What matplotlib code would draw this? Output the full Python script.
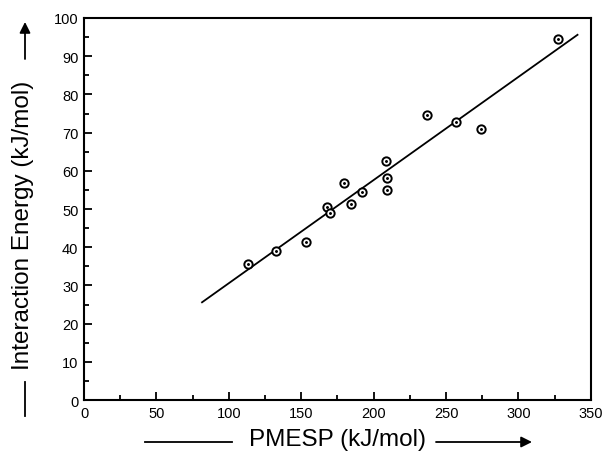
import matplotlib
matplotlib.use("Agg")
import matplotlib.pyplot as plt
from matplotlib.ticker import MultipleLocator

# values
pmesp = [113.3, 132.9, 153.6, 167.6, 170.2, 179.4, 184.2, 191.8,
         208.8, 209.5, 209.1, 236.9, 257.2, 274.2, 327.0]
energy = [35.5, 39.1, 41.3, 50.6, 48.9, 56.8, 51.2, 54.5,
          62.5, 58.1, 55.1, 74.5, 72.9, 70.9, 94.5]

# regression line as drawn (end points)
fit_x = [81.5, 340.8]
fit_y = [25.6, 95.6]

plt.rcParams['font.family'] = ['Liberation Sans', 'DejaVu Sans']

fig = plt.figure(figsize=(6.11, 4.60), dpi=100)
ax = fig.add_axes([0.1375, 0.128, 0.8295, 0.8307])

ax.plot(fit_x, fit_y, color='black', lw=1.3, zorder=2)
ax.plot(pmesp, energy, 'o', ms=6, mfc='white', mec='black', mew=1.4, zorder=3)
ax.plot(pmesp, energy, '.', ms=2.2, color='black', zorder=4)

ax.set_xlim(0, 350)
ax.set_ylim(0, 100)
ax.xaxis.set_major_locator(MultipleLocator(50))
ax.xaxis.set_minor_locator(MultipleLocator(25))
ax.yaxis.set_major_locator(MultipleLocator(10))
ax.yaxis.set_minor_locator(MultipleLocator(5))
ax.tick_params(which='both', direction='in', top=False, right=False,
               labelsize=10.5, width=1.3)
ax.tick_params(which='major', length=6)
ax.tick_params(which='minor', length=3.3)
ax.tick_params(axis='x', pad=4)
ax.tick_params(axis='y', pad=4)
for s in ax.spines.values():
    s.set_linewidth(1.5)

# axis titles with the arrows on both sides
fig.text(337 / 611, 1 - 440 / 460, 'PMESP (kJ/mol)', fontsize=17.5,
         ha='center', va='center')
fig.add_artist(plt.Line2D([145 / 611, 232 / 611], [1 - 443 / 460] * 2,
                          color='black', lw=1.3, transform=fig.transFigure))
ax.annotate('', xy=(532 / 611, 1 - 443 / 460), xytext=(436 / 611, 1 - 443 / 460),
            xycoords='figure fraction', textcoords='figure fraction',
            arrowprops=dict(arrowstyle='-|>', color='black', lw=1.3,
                            mutation_scale=16, shrinkA=0, shrinkB=0))

fig.text(23 / 611, 1 - 225 / 460, 'Interaction Energy (kJ/mol)', fontsize=17.5,
         rotation=90, ha='center', va='center')
fig.add_artist(plt.Line2D([25 / 611] * 2, [1 - 383 / 460, 1 - 417 / 460],
                          color='black', lw=1.3, transform=fig.transFigure))
ax.annotate('', xy=(25 / 611, 1 - 23 / 460), xytext=(25 / 611, 1 - 60 / 460),
            xycoords='figure fraction', textcoords='figure fraction',
            arrowprops=dict(arrowstyle='-|>', color='black', lw=1.3,
                            mutation_scale=16, shrinkA=0, shrinkB=0))

fig.savefig('out.png', dpi=100)
